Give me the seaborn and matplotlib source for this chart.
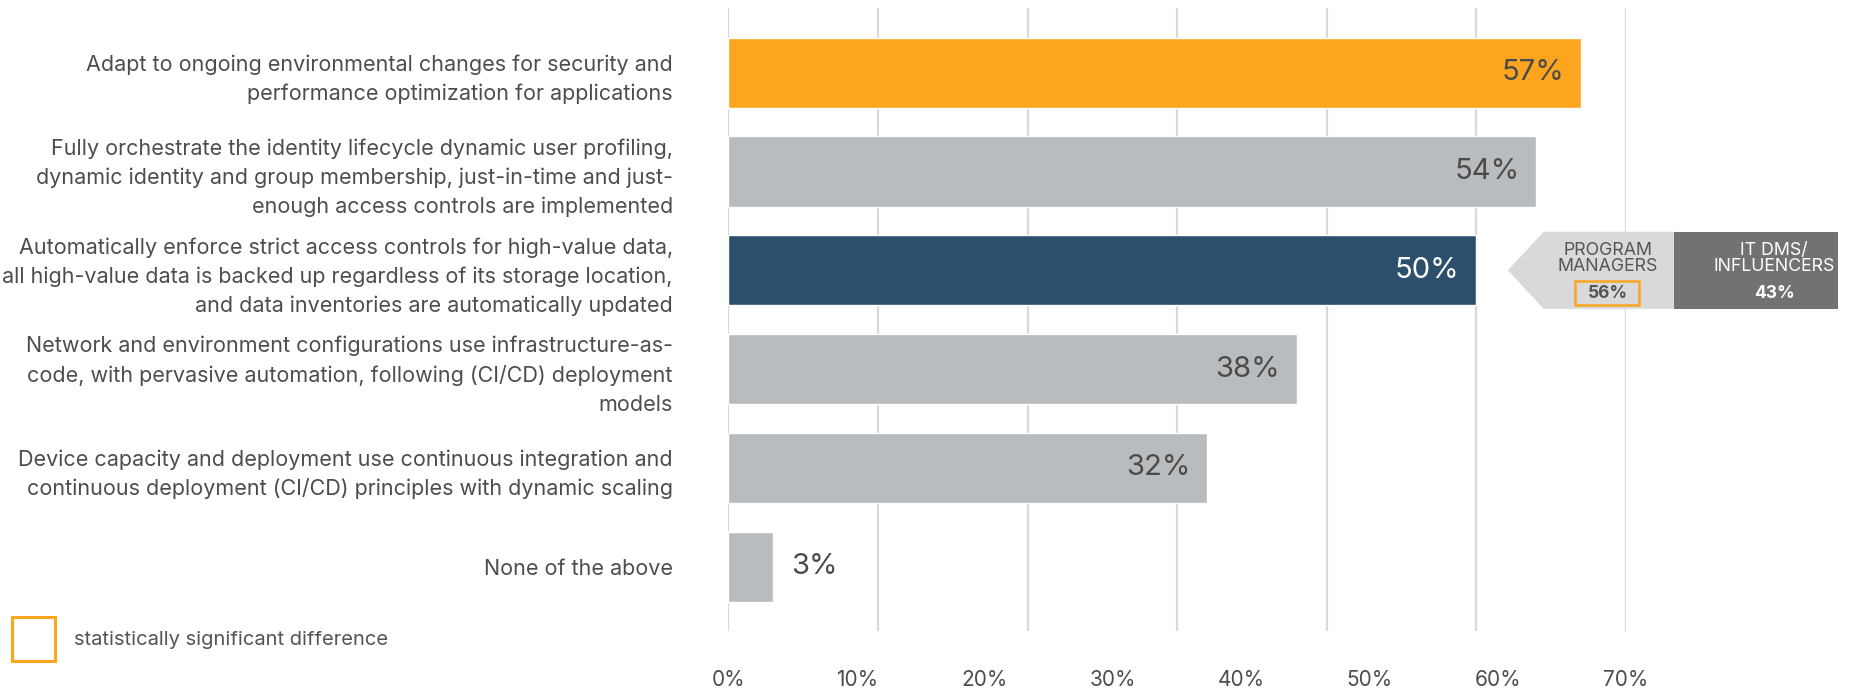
import matplotlib
matplotlib.use("Agg")
import matplotlib.pyplot as plt
import seaborn as sns
import pandas as pd
from matplotlib.patches import Polygon, Rectangle

categories = [
    "Adapt to ongoing environmental changes for security and\nperformance optimization for applications",
    "Fully orchestrate the identity lifecycle dynamic user profiling,\ndynamic identity and group membership, just-in-time and just-\nenough access controls are implemented",
    "Automatically enforce strict access controls for high-value data,\nall high-value data is backed up regardless of its storage location,\nand data inventories are automatically updated",
    "Network and environment configurations use infrastructure-as-\ncode, with pervasive automation, following (CI/CD) deployment\nmodels",
    "Device capacity and deployment use continuous integration and\ncontinuous deployment (CI/CD) principles with dynamic scaling",
    "None of the above",
]
values = [57, 54, 50, 38, 32, 3]
bar_colors = ["#FEA520", "#B9BCBF", "#2C4F6B", "#B9BCBF", "#B9BCBF", "#B9BCBF"]
label_colors = ["#4a4a4a", "#4a4a4a", "#ffffff", "#4a4a4a", "#4a4a4a", "#4a4a4a"]
tick_values = [0, 10, 20, 30, 40, 50, 60, 70]
tick_labels = ["0%", "10%", "20%", "30%", "40%", "50%", "60%", "70%"]
callout_groups = ["PROGRAM\nMANAGERS", "IT DMS/\nINFLUENCERS"]
callout_values = [56, 43]
legend_text = "statistically significant difference"

sns.set_theme(style="white")
plt.rcParams["font.family"] = ["Inter", "DejaVu Sans"]
TXT = "#4d4d4d"

df = pd.DataFrame({"category": categories, "value": values})

fig = plt.figure(figsize=(18.75, 6.88), dpi=100)
ax = fig.add_axes([0.3885, 0.083, 0.4787, 0.9047])

sns.barplot(data=df, y="category", x="value", hue="category",
            palette=bar_colors, legend=False, width=0.71, ax=ax,
            saturation=1, orient="h", zorder=3)

ax.set_xlim(0, 60)
ax.set_ylim(5.65, -0.65)
ax.set_xticks(range(0, 61, 10))
ax.set_xticklabels([])
ax.grid(axis="x", color="#d9d9d9", lw=1.6, zorder=0)
ax.grid(axis="y", visible=False)
for s in ax.spines.values():
    s.set_visible(False)
ax.set_xlabel("")
ax.set_ylabel("")
ax.tick_params(axis="both", length=0)
ax.tick_params(axis="y", pad=40, labelsize=15.5, labelcolor=TXT)
for t in ax.get_yticklabels():
    t.set_linespacing(1.52)

# secondary axis with labels 0-70%
sec = ax.secondary_xaxis("bottom", functions=(lambda x: x * 70 / 60, lambda x: x * 60 / 70))
sec.set_xticks(tick_values)
sec.set_xticklabels(tick_labels)
sec.tick_params(length=0, pad=28, labelsize=15, labelcolor=TXT)
sec.spines["bottom"].set_visible(False)

# value labels
for i, (v, c) in enumerate(zip(values, label_colors)):
    if v >= 10:
        ax.annotate(f"{v}%", xy=(v, i), xytext=(-12, 0), textcoords="offset points",
                    ha="right", va="center", fontsize=21, color=c, zorder=5)
    else:
        ax.annotate(f"{v}%", xy=(v, i), xytext=(13, 0), textcoords="offset points",
                    ha="left", va="center", fontsize=21, color=c, zorder=5)

# callout for bar index 2
yc = 2
h = 0.39
light = Polygon([[52.1, yc], [54.5, yc - h], [63.2, yc - h], [63.2, yc + h], [54.5, yc + h]],
                closed=True, facecolor="#D7D9DB", edgecolor="none", clip_on=False, zorder=4)
dark = Rectangle((63.2, yc - h), 74.2 - 63.2, 2 * h, facecolor="#707274",
                 edgecolor="none", clip_on=False, zorder=4)
ax.add_patch(light)
ax.add_patch(dark)
xs = [58.8, 69.9]
tcols = ["#555555", "#ffffff"]
for x, g, v, c in zip(xs, callout_groups, callout_values, tcols):
    ax.text(x, yc - 0.12, g, ha="center", va="center", fontsize=12.8, color=c,
            linespacing=0.95, zorder=6, clip_on=False)
    ax.text(x, yc + 0.235, f"{v}%", ha="center", va="center", fontsize=12.5,
            fontweight="bold", color=c, zorder=6, clip_on=False)
box = Rectangle((56.6, yc + 0.105), 60.9 - 56.6, 0.25, facecolor="none",
                edgecolor="#FEA520", lw=1.8, clip_on=False, zorder=7)
ax.add_patch(box)

# legend
fig.patches.append(Rectangle((0.0064, 0.0392), 0.0229, 0.064, transform=fig.transFigure,
                             facecolor="none", edgecolor="#FEA520", lw=2.2))
fig.text(0.0395, 0.0698, legend_text, ha="left", va="center", fontsize=14.5, color="#555555")

fig.savefig("out.png", dpi=100, facecolor="white")
